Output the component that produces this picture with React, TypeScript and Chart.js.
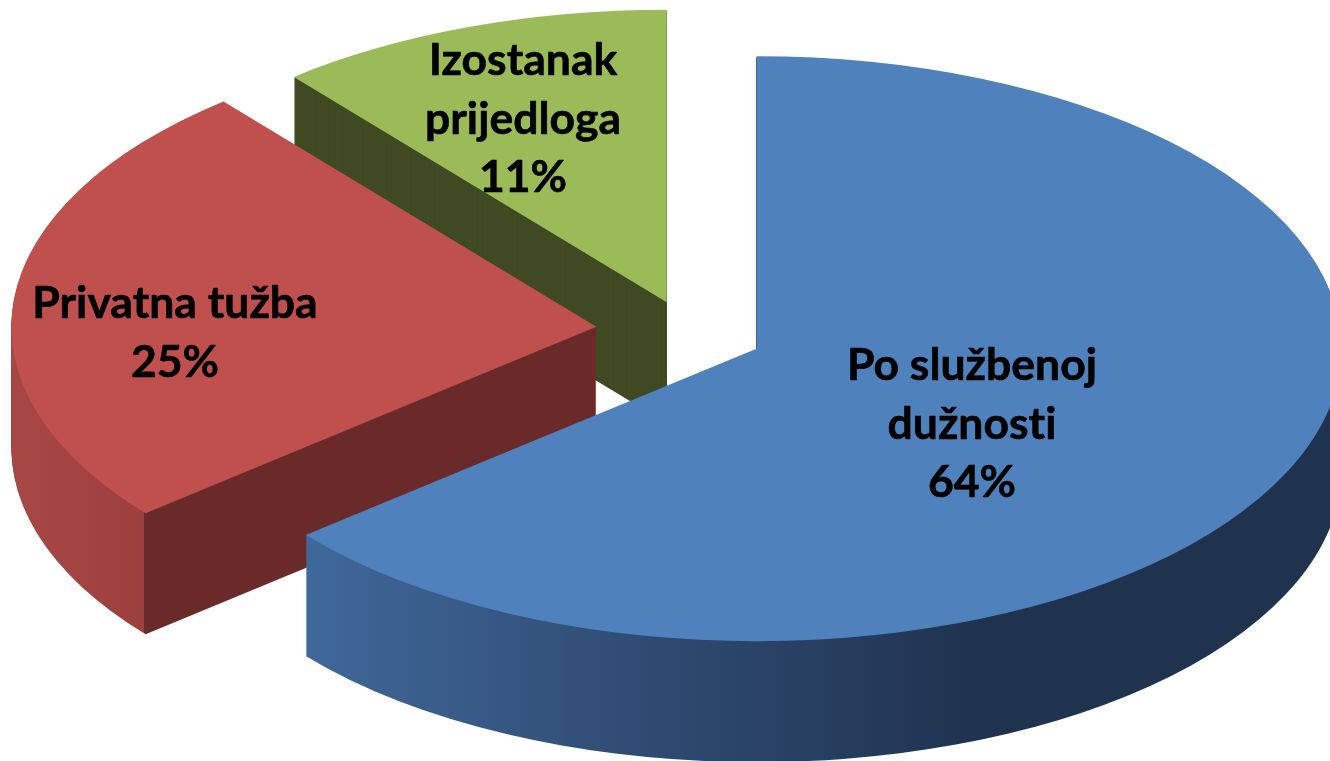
import React, { useEffect, useRef } from "react";
import Chart from "chart.js/auto";

const categories = ["Po službenoj dužnosti", "Privatna tužba", "Izostanak prijedloga"];
const values = [64, 25, 11];
const labelLines = [
  ["Po službenoj", "dužnosti", "64%"],
  ["Privatna tužba", "25%"],
  ["Izostanak", "prijedloga", "11%"],
];
const topColors = ["#4f81bd", "#c0504d", "#9bbb59"];
const explode = [90, 79, 45];
const sliceNudgeX = [0, 0, 7];
const sliceNudgeY = [-1, 0, -7];
const labelX = [972, 175, 523];
const labelY = [366, 304, 61];

const WIDTH = 1330;
const HEIGHT = 761;
const RADIUS = 585;
const SQUASH = 0.5;
const DEPTH = 121;
const PIE_X = 675;
const PIE_Y = 330.5;
const LINE_GAP = 58.5;

function wallFill(ctx: CanvasRenderingContext2D, i: number, cx: number) {
  if (i === 0) {
    const g = ctx.createLinearGradient(cx - 452, 0, cx + 225, 0);
    g.addColorStop(0, "#40689a");
    g.addColorStop(0.5, "#2f4b72");
    g.addColorStop(1, "#1f334f");
    return g;
  }
  if (i === 1) {
    const g = ctx.createLinearGradient(cx - 585, 0, cx - 452, 0);
    g.addColorStop(0, "#a84845");
    g.addColorStop(0.999, "#9c403d");
    g.addColorStop(0.999, "#6b2a2a");
    g.addColorStop(1, "#6b2a2a");
    return g;
  }
  return "#404a23";
}

const pie3d = {
  id: "pie3d",
  beforeDatasetsDraw(chart: any) {
    const ctx: CanvasRenderingContext2D = chart.ctx;
    const arcs = chart.getDatasetMeta(0).data;
    const paint = (i: number, fill: any, drop: number) => {
      const arc = arcs[i];
      const mid = (arc.startAngle + arc.endAngle) / 2;
      const shim = Object.create(arc);
      shim.options = {
        backgroundColor: fill,
        borderColor: fill,
        borderWidth: 0,
        borderAlign: "center",
        borderJoinStyle: "round",
        borderRadius: 0,
        offset: 0,
        spacing: 0,
        circular: true,
      };
      ctx.save();
      ctx.translate(PIE_X + sliceNudgeX[i], PIE_Y + sliceNudgeY[i] + drop);
      ctx.scale(1, SQUASH);
      ctx.translate(Math.cos(mid) * explode[i], Math.sin(mid) * explode[i]);
      ctx.translate(-arc.x, -arc.y);
      shim.draw(ctx);
      ctx.restore();
    };
    [2, 1, 0].forEach((i) => {
      const fill = wallFill(ctx, i, arcs[i].x);
      for (let k = DEPTH; k >= 1; k--) paint(i, fill, k);
      paint(i, topColors[i], 0);
    });
    ctx.save();
    ctx.fillStyle = "#000000";
    ctx.strokeStyle = "#000000";
    ctx.lineWidth = 0.6;
    ctx.lineJoin = "round";
    ctx.font = "bold 44.5px Lato";
    (ctx as any).letterSpacing = "0.01px";
    ctx.textAlign = "center";
    ctx.textBaseline = "middle";
    labelLines.forEach((lines, i) => {
      lines.forEach((line, j) => {
        ctx.fillText(line, labelX[i], labelY[i] + j * LINE_GAP);
        ctx.strokeText(line, labelX[i], labelY[i] + j * LINE_GAP);
      });
    });
    ctx.restore();
    return false;
  },
};

export default function App() {
  const ref = useRef<HTMLCanvasElement>(null);
  useEffect(() => {
    const chart = new Chart(ref.current as HTMLCanvasElement, {
      type: "pie",
      data: {
        labels: categories,
        datasets: [{ data: values, backgroundColor: topColors, borderWidth: 0 }],
      },
      options: {
        responsive: false,
        animation: false,
        radius: RADIUS,
        layout: { padding: 0 },
        plugins: { legend: { display: false }, tooltip: { enabled: false } },
      } as any,
      plugins: [pie3d as any],
    });
    return () => chart.destroy();
  }, []);
  return (
    <div style={{ position: "fixed", left: 0, top: 0, width: WIDTH, height: HEIGHT, background: "#fff", overflow: "hidden" }}>
      <canvas ref={ref} width={WIDTH} height={HEIGHT} style={{ display: "block" }} />
    </div>
  );
}
